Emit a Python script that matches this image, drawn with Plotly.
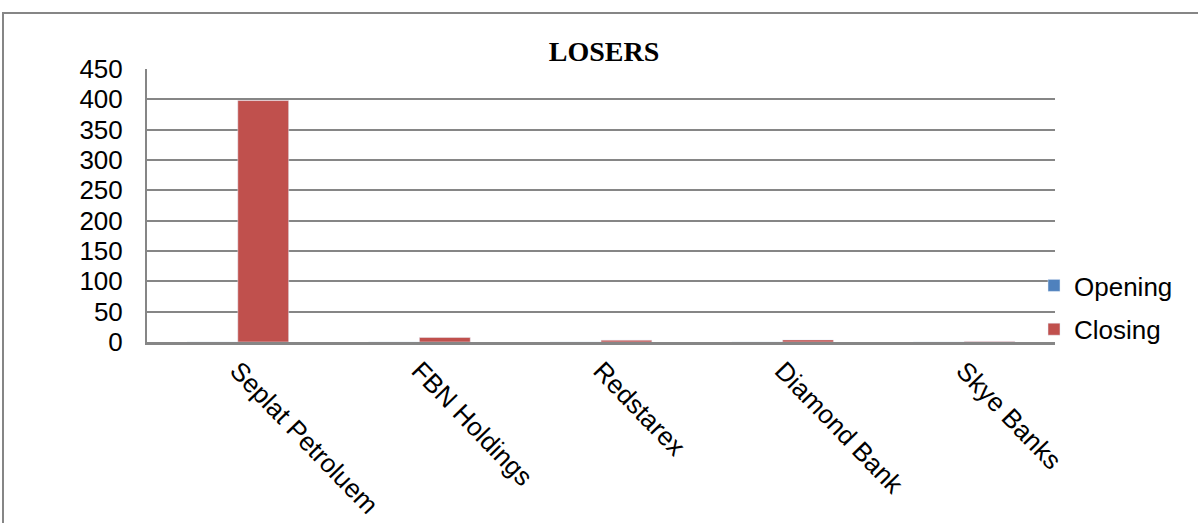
import plotly.graph_objects as go

categories = ["Seplat Petroluem", "FBN Holdings", "Redstarex", "Diamond Bank", "Skye Banks"]
opening = [0, 0, 0, 0, 0]
closing = [398, 7.5, 3, 3.5, 1]
y_ticks = [0, 50, 100, 150, 200, 250, 300, 350, 400, 450]

fig = go.Figure()
fig.add_trace(go.Bar(name="Opening", x=categories, y=opening, marker_color="#4F81BD",
                     legendgroup="a"))
fig.add_trace(go.Bar(name="Closing", x=categories, y=closing, marker_color="#C0504D",
                     legendgroup="b"))

L, R, T, B = 147, 1198 - 1055, 69, 523 - 342
pw, ph = 1198 - L - R, 523 - T - B

fig.update_layout(
    width=1198, height=523,
    margin=dict(l=L, r=R, t=T, b=B, pad=0, autoexpand=False),
    paper_bgcolor="white", plot_bgcolor="white",
    barmode="group", bargap=0.44, bargroupgap=0,
    font=dict(family="Liberation Sans, Arial", size=26, color="black"),
    title=dict(text="<b>LOSERS</b>", x=(604 - L) / pw, xref="paper", xanchor="center",
               y=1 - 51 / 523, yanchor="middle",
               font=dict(family="Liberation Serif, Times New Roman", size=28, color="black")),
    showlegend=True,
    legend=dict(x=(1034 - L) / pw, xanchor="left", y=(342 - 262) / ph, yanchor="top",
                traceorder="grouped", tracegroupgap=7, bgcolor="rgba(0,0,0,0)",
                font=dict(size=26), itemwidth=30),
    xaxis=dict(showline=True, linecolor="#868686", linewidth=3, tickangle=46,
               ticks="", showgrid=False, tickfont=dict(size=26), automargin=False),
    yaxis=dict(range=[0, 450], tickvals=y_ticks, showgrid=True, gridcolor="#868686",
               gridwidth=1.5, showline=True, linecolor="#868686", linewidth=2,
               ticks="", ticklabelstandoff=17, tickfont=dict(size=26), zeroline=False,
               automargin=False),
    shapes=[dict(type="rect", xref="paper", yref="paper",
                 x0=(3 - L) / pw, x1=(1205 - L) / pw,
                 y0=(342 - 540) / ph, y1=(342 - 13) / ph,
                 line=dict(color="#868686", width=2), fillcolor="rgba(0,0,0,0)",
                 layer="below")],
)

fig.write_html("out.html")
